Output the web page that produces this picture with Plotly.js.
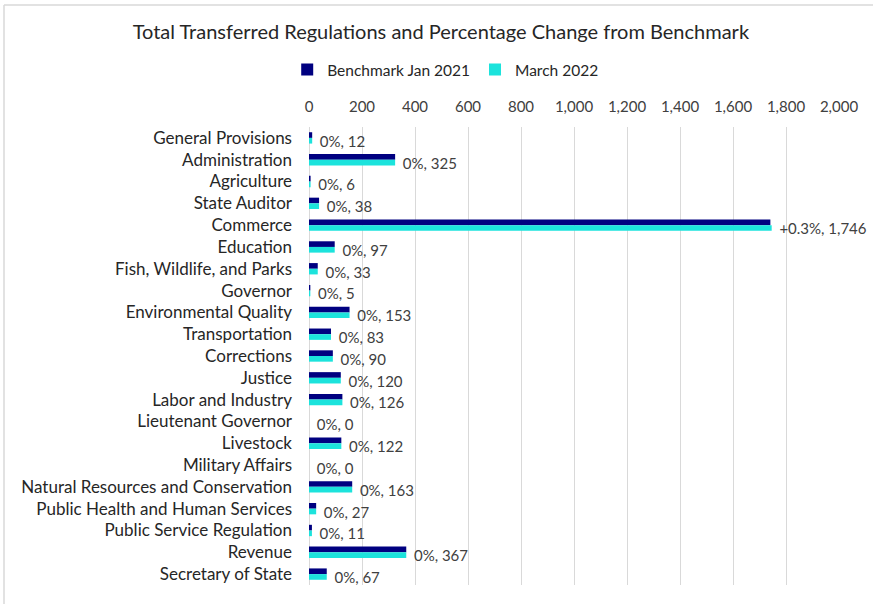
<!DOCTYPE html>
<html>
<head>
<meta charset="utf-8">
<script src="https://cdn.plot.ly/plotly-3.0.1.min.js"></script>
<style>html,body{margin:0;padding:0;background:#fff;}#chart{width:873px;height:604px;}</style>
</head>
<body>
<div id="chart"></div>
<script>
const categories = ["General Provisions","Administration","Agriculture","State Auditor","Commerce","Education","Fish, Wildlife, and Parks","Governor","Environmental Quality","Transportation","Corrections","Justice","Labor and Industry","Lieutenant Governor","Livestock","Military Affairs","Natural Resources and Conservation","Public Health and Human Services","Public Service Regulation","Revenue","Secretary of State"];
const benchmark = [12,325,6,38,1741,97,33,5,153,83,90,120,126,0,122,0,163,27,11,367,67];
const march2022 = [12,325,6,38,1746,97,33,5,153,83,90,120,126,0,122,0,163,27,11,367,67];
const pctChange = ["0%","0%","0%","0%","+0.3%","0%","0%","0%","0%","0%","0%","0%","0%","0%","0%","0%","0%","0%","0%","0%","0%"];
const tickVals = [0,200,400,600,800,1000,1200,1400,1600,1800,2000];
const tickText = ["0","200","400","600","800","1,000","1,200","1,400","1,600","1,800","2,000"];

const fmt = v => v.toLocaleString('en-US');
const labels = march2022.map((v,i) => '\u00a0\u00a0' + pctChange[i] + ', ' + fmt(v));

const FONT = 'Lato, "Open Sans", sans-serif';

const traces = [
  {type:'bar', orientation:'h', name:'Benchmark Jan 2021', x:benchmark, y:categories,
   marker:{color:'#000080'}, hoverinfo:'x+y'},
  {type:'bar', orientation:'h', name:'March 2022', x:march2022, y:categories,
   marker:{color:'#1CE3DC'}, text:labels, textposition:'outside', cliponaxis:false,
   constraintext:'none',
   textfont:{family:FONT, size:15, color:'#404040'}, hoverinfo:'x+y'}
];

const layout = {
  width:873, height:604,
  margin:{l:309, r:34, t:127, b:19},
  paper_bgcolor:'#fff', plot_bgcolor:'#fff',
  font:{family:FONT, color:'#404040'},
  title:{text:'Total Transferred Regulations and Percentage Change from Benchmark',
         font:{family:FONT, size:20, color:'#262626'}, x:0.505, xanchor:'center', y:0.947, yanchor:'middle'},
  barmode:'group', bargap:0.48, bargroupgap:0,
  showlegend:true,
  legend:{orientation:'h', x:0.257, xanchor:'center', y:1.1245, yanchor:'middle',
          font:{family:FONT, size:15.5, color:'#262626'}, traceorder:'normal', itemwidth:30},
  xaxis:{side:'top', range:[0,2000], tickvals:tickVals, ticktext:tickText,
         showgrid:true, gridcolor:'#d9d9d9', gridwidth:1, zeroline:true, zerolinecolor:'#d9d9d9',
         showline:false, ticks:'', ticklabelstandoff:11,
         tickfont:{family:FONT, size:15, color:'#404040'}, fixedrange:true},
  yaxis:{type:'category', autorange:'reversed', showgrid:false, zeroline:false, showline:false,
         ticks:'', ticklabelstandoff:16, tickfont:{family:FONT, size:17, color:'#262626'}, fixedrange:true},
  shapes:[
    {type:'line', xref:'paper', yref:'paper', x0:(4-309)/530, x1:(873-309)/530, y0:(585-5)/458, y1:(585-5)/458,
     line:{color:'#d9d9d9', width:1.5}},
    {type:'line', xref:'paper', yref:'paper', x0:(4-309)/530, x1:(4-309)/530, y0:(585-5)/458, y1:(585-604)/458,
     line:{color:'#d9d9d9', width:1.5}}
  ]
};

Plotly.newPlot('chart', traces, layout, {displayModeBar:false, staticPlot:true});
</script>
</body>
</html>
